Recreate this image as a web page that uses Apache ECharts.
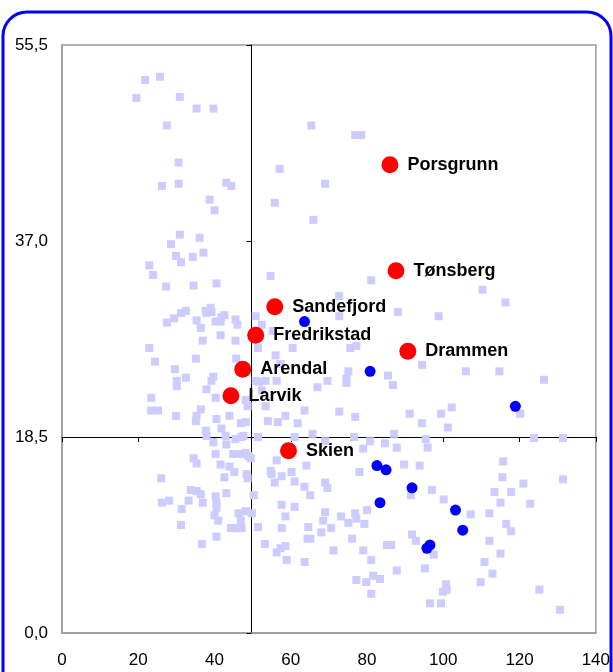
<!DOCTYPE html>
<html>
<head>
<meta charset="utf-8">
<script src="https://cdn.jsdelivr.net/npm/echarts@6/dist/echarts.min.js"></script>
<style>
html,body{margin:0;padding:0;background:#fff;}
#c{width:613px;height:672px;}
</style>
</head>
<body>
<div id="c"></div>
<script>
// ---- data ----
const xTicks = [0, 20, 40, 60, 80, 100, 120, 140];
const yTicks = [0, 18.5, 37, 55.5];
const xCross = 49.7;   // vertical reference line
const yCross = 18.5;   // horizontal reference line

const cityNames = ['Porsgrunn', 'Tønsberg', 'Sandefjord', 'Fredrikstad', 'Drammen', 'Arendal', 'Larvik', 'Skien'];
const cityX = [86.0, 87.6, 55.8, 50.8, 90.7, 47.4, 44.3, 59.4];
const cityY = [44.2, 34.2, 30.8, 28.1, 26.6, 24.9, 22.4, 17.2];

const blueX = [63.6, 80.8, 118.9, 82.6, 85.0, 91.8, 83.4, 103.2, 105.1, 96.5, 95.7];
const blueY = [29.4, 24.7, 21.4, 15.8, 15.4, 13.7, 12.3, 11.6, 9.7, 8.3, 8.0];

const otherPoints = [
[21.8,52.2],[25.7,52.5],[19.5,50.5],[30.9,50.6],[35.3,49.5],[39.7,49.5],[27.5,47.9],[65.4,47.9],[76.9,47.0],[78.5,47.0],
[30.6,44.4],[57.1,43.8],[26.2,42.2],[30.6,42.4],[43.1,42.5],[44.4,42.2],[69.0,42.4],[38.7,40.9],[55.8,40.6],[40.0,39.9],
[65.9,39.0],[30.9,37.6],[36.1,37.3],[28.6,36.7],
[29.9,35.6],[31.2,35.0],[34.3,35.5],[37.1,35.9],[22.9,34.7],[23.9,33.8],[27.3,32.7],[34.5,32.8],[40.5,33.0],[54.7,33.7],
[32.5,30.4],[31.2,30.2],[29.4,29.7],[27.5,29.3],[37.7,30.4],[39.0,30.7],[39.2,30.3],[37.9,30.2],[35.3,29.5],[36.4,28.8],
[40.3,29.4],[41.8,29.8],[42.6,30.0],[41.6,29.4],[45.5,29.6],[46.0,29.1],[50.8,29.9],[52.4,29.1],[36.9,27.6],[41.6,28.1],
[45.5,27.6],[22.9,26.9],[24.4,25.6],[35.1,25.9],[45.7,25.9],[51.4,26.9],[56.0,26.2],[57.3,25.4],[60.5,26.9],[55.3,28.5],
[29.6,24.9],[32.5,24.1],[30.1,23.8],[30.1,23.3],[39.2,23.8],[39.7,24.2],[37.9,23.0],[50.8,23.8],[51.6,23.7],[53.4,23.8],
[56.3,23.8],[52.4,22.9],[23.4,22.2],[40.3,22.2],[48.2,22.0],[48.7,21.4],[53.4,21.4],[67.0,23.2],[69.6,23.8],[23.4,21.0],
[25.2,21.0],[36.4,21.1],[35.3,20.5],[35.1,20.0],[29.9,20.5],[40.5,20.2],[43.9,20.5],[46.9,19.8],[48.2,19.9],[54.0,20.0],
[56.6,19.9],[58.6,20.5],[61.8,19.8],[63.6,21.0],[37.7,19.1],[37.9,18.6],[41.8,19.3],[42.9,18.6],[45.5,18.3],[46.9,18.5],
[47.6,18.6],[51.4,18.5],[61.0,18.5],[65.7,18.8],[69.0,18.1],
[81.1,33.3],[72.7,31.8],[72.7,29.9],[88.1,30.3],[98.8,29.9],[110.3,32.4],[116.3,31.2],[75.6,26.9],[77.2,27.1],[94.4,25.3],
[75.1,24.7],[74.6,24.0],[74.6,23.6],[85.5,24.3],[86.8,23.4],[105.9,24.7],[114.7,24.7],[126.4,23.9],[72.7,20.9],[76.9,20.4],
[91.2,20.7],[94.4,19.8],[99.4,20.7],[102.2,21.3],[101.2,19.4],[120.2,20.7],[76.6,18.5],[80.8,18.1],[84.7,17.9],[87.1,18.8],
[95.4,18.3],[123.8,18.4],[131.4,18.4],
[39.7,18.0],[43.1,17.8],[40.3,16.9],[44.9,16.9],[46.9,16.9],[48.2,17.0],[48.9,16.7],[49.5,16.5],[34.5,16.5],[35.3,16.0],
[41.6,15.9],[43.9,15.7],[45.2,15.2],[42.6,14.7],[48.4,15.0],[48.7,14.6],[26.0,14.6],[33.8,13.5],[35.3,13.4],[36.4,13.1],
[36.9,12.3],[40.3,12.9],[40.5,12.3],[40.5,11.8],[43.1,13.2],[50.3,13.0],[26.2,12.3],[28.1,12.5],[33.2,12.5],[31.4,11.7],
[40.0,11.1],[41.0,10.6],[46.3,11.3],[48.2,11.5],[49.8,11.3],[46.9,10.6],[44.3,9.9],[45.6,9.9],[47.1,9.9],[31.2,10.2],
[51.4,10.0],[40.5,9.1],[36.7,8.4],[53.2,8.4],[56.3,7.6],[57.3,8.0],[58.6,8.2],[58.9,6.9],[63.6,6.7],[57.6,9.9],
[58.6,11.0],[57.6,12.1],[61.0,11.9],[64.6,10.0],[68.0,9.5],[64.4,8.9],[65.1,8.9],[69.0,11.4],[68.5,10.6],[54.7,15.3],
[55.0,15.0],[55.8,14.2],[56.3,16.3],[60.2,15.2],[61.0,14.3],[57.6,14.8],[64.1,15.8],[63.6,13.8],[65.1,13.0],[69.0,14.2],
[69.6,13.7],
[79.0,17.4],[87.8,17.5],[95.9,17.5],[78.0,15.2],[89.7,15.9],[93.8,15.8],[91.5,13.0],[97.0,13.5],[100.1,12.6],[80.0,11.6],
[76.9,11.3],[77.2,10.8],[73.2,11.0],[75.1,10.4],[79.3,10.3],[70.6,9.9],[107.2,11.2],[76.1,8.9],[71.2,7.8],[79.0,7.8],
[81.1,6.9],[85.2,8.3],[86.3,8.3],[91.8,9.3],[92.8,8.7],[97.5,7.4],[95.2,6.1],[87.8,5.9],[77.2,5.0],[79.8,4.8],
[81.6,5.4],[83.4,5.1],[81.1,3.7],[100.7,4.6],[100.9,4.1],[99.9,3.9],[96.5,2.8],[99.4,2.8],[109.8,4.8],[112.9,5.6],
[110.8,6.7],[115.0,7.5],[112.1,8.7],[116.5,10.3],[117.8,9.6],[112.1,11.3],[115.0,12.3],[113.4,13.3],[115.5,14.7],[117.8,13.3],
[115.7,16.2],[121.0,14.1],[122.8,12.2],[131.4,14.5],[125.2,4.1],[130.6,2.2]
];

// ---- chart ----
const FONT = '"Liberation Sans", Arial, sans-serif';
const xMin = xTicks[0], xMax = xTicks[xTicks.length - 1], xStep = xTicks[1] - xTicks[0];
const yMin = yTicks[0], yMax = yTicks[yTicks.length - 1], yStep = yTicks[1] - yTicks[0];

const chart = echarts.init(document.getElementById('c'), null, {renderer: 'canvas'});
const option = {
  backgroundColor: '#ffffff',
  animation: false,
  graphic: [{
    type: 'rect', z: -10, silent: true,
    shape: {x: 3, y: 12, width: 608, height: 700, r: 24},
    style: {fill: 'none', stroke: '#0000ff', lineWidth: 3}
  }],
  grid: {left: 62, right: 14, top: 45, bottom: 39, show: true, borderColor: '#9a9a9a', borderWidth: 1.5, backgroundColor: 'transparent'},
  xAxis: [
    {
      type: 'value', min: xMin, max: xMax, interval: xStep, position: 'bottom',
      axisLine: {onZero: false, lineStyle: {color: '#9a9a9a', width: 1.5}},
      axisTick: {show: false}, splitLine: {show: false},
      axisLabel: {color: '#000', fontSize: 17, fontFamily: FONT, margin: 19}
    },
    {
      type: 'value', min: xMin, max: xMax, interval: xStep, position: 'bottom',
      axisLine: {show: true, onZero: true, onZeroAxisIndex: 2, lineStyle: {color: '#000', width: 1}},
      axisTick: {show: true, length: 5, lineStyle: {color: '#000', width: 1}},
      axisLabel: {show: false}, splitLine: {show: false}
    },
    {type: 'value', min: xMin - xCross, max: xMax - xCross, show: false, splitLine: {show: false}}
  ],
  yAxis: [
    {
      type: 'value', min: yMin, max: yMax, interval: yStep, position: 'left',
      axisLine: {show: true, onZero: false, lineStyle: {color: '#9a9a9a', width: 1.5}},
      axisTick: {show: false}, splitLine: {show: false},
      axisLabel: {color: '#000', fontSize: 17, fontFamily: FONT, margin: 14,
        formatter: v => v.toFixed(1).replace('.', ',')}
    },
    {
      type: 'value', min: yMin, max: yMax, interval: yStep, position: 'left',
      axisLine: {show: true, onZero: true, onZeroAxisIndex: 2, lineStyle: {color: '#000', width: 1}},
      axisTick: {show: true, length: 5, lineStyle: {color: '#000', width: 1}},
      axisLabel: {show: false}, splitLine: {show: false}
    },
    {type: 'value', min: yMin - yCross, max: yMax - yCross, show: false, splitLine: {show: false}}
  ],
  series: [
    {
      type: 'scatter', xAxisIndex: 0, yAxisIndex: 0, z: 2,
      symbol: 'rect', symbolSize: 8,
      itemStyle: {color: '#ccccff', opacity: 1},
      data: otherPoints
    },
    {
      type: 'scatter', xAxisIndex: 0, yAxisIndex: 0, z: 3,
      symbol: 'circle', symbolSize: 11,
      itemStyle: {color: '#0000ff', opacity: 1},
      data: blueX.map((x, i) => [x, blueY[i]])
    },
    {
      type: 'scatter', xAxisIndex: 0, yAxisIndex: 0, z: 4,
      symbol: 'circle', symbolSize: 17,
      itemStyle: {color: '#ff0000', opacity: 1},
      label: {show: true, position: 'right', distance: 9, color: '#000', fontWeight: 'bold', fontSize: 18, fontFamily: FONT,
        formatter: p => p.name},
      data: cityNames.map((n, i) => ({name: n, value: [cityX[i], cityY[i]]}))
    }
  ]
};
chart.setOption(option);
</script>
</body>
</html>
